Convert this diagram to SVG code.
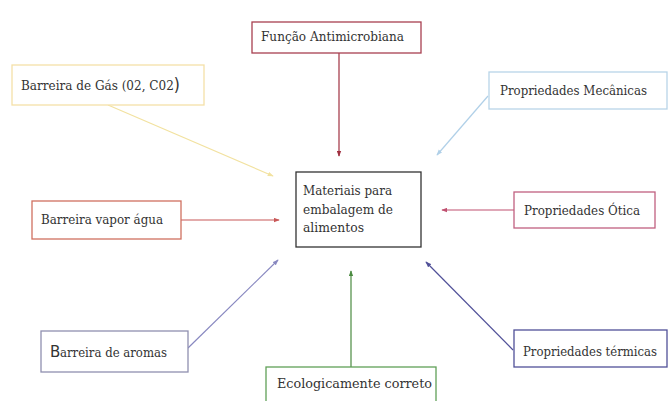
<svg xmlns="http://www.w3.org/2000/svg" width="668" height="401" viewBox="0 0 668 401">
<defs>
<style>
.box{fill:#fff;stroke-width:1.3}
.t{font-family:'DejaVu Serif','Liberation Serif',serif;font-size:13px;fill:#333}
.s{font-family:'DejaVu Sans','Liberation Sans',sans-serif}
.c{fill:none;stroke-width:1.2}
</style>
<marker id="ar" viewBox="0 0 8 6" refX="7" refY="3" markerWidth="6" markerHeight="5" orient="auto" markerUnits="userSpaceOnUse"><path d="M0,0 L8,3 L0,6 z" fill="context-stroke"/></marker>
</defs>
<rect width="668" height="401" fill="#fff"/>
<g id="connectors">
<line class="c" x1="339" y1="53" x2="339" y2="156" stroke="#a03040" marker-end="url(#ar)"/>
<line class="c" x1="108" y1="105" x2="273" y2="176" stroke="#f2e2a0" marker-end="url(#ar)"/>
<line class="c" x1="488" y1="96" x2="437" y2="155" stroke="#b0d0e8" marker-end="url(#ar)"/>
<line class="c" x1="181" y1="220" x2="279" y2="220" stroke="#c85858" marker-end="url(#ar)"/>
<line class="c" x1="514" y1="210" x2="442" y2="210" stroke="#c05070" marker-end="url(#ar)"/>
<line class="c" x1="188" y1="348" x2="278" y2="260" stroke="#8888c0" marker-end="url(#ar)"/>
<line class="c" x1="351" y1="367" x2="351" y2="271" stroke="#4a8a40" marker-end="url(#ar)"/>
<line class="c" x1="513" y1="350" x2="426" y2="262" stroke="#505098" marker-end="url(#ar)"/>
</g>
<g id="funcao">
<rect class="box" x="252" y="22" width="169" height="31" stroke="#a84050"/>
<text class="t" x="261" y="41" textLength="143" lengthAdjust="spacingAndGlyphs">Função Antimicrobiana</text>
</g>
<g id="gas">
<rect class="box" x="12" y="65" width="192" height="40" stroke="#f5e0a8"/>
<text class="t" x="21" y="90" textLength="159" lengthAdjust="spacingAndGlyphs">Barreira de Gás (02, C02<tspan class="s" font-size="17" dy="1">)</tspan></text>
</g>
<g id="mecanicas">
<rect class="box" x="489" y="72" width="178" height="37" stroke="#b8d4e8"/>
<text class="t" x="500" y="95" textLength="147" lengthAdjust="spacingAndGlyphs">Propriedades Mecânicas</text>
</g>
<g id="centro">
<rect class="box" x="296" y="172" width="125" height="75" stroke="#333"/>
<text class="t" x="303" y="195" textLength="89" lengthAdjust="spacingAndGlyphs">Materiais para</text>
<text class="t" x="303" y="214" textLength="90" lengthAdjust="spacingAndGlyphs">embalagem de</text>
<text class="t" x="303" y="232" textLength="61" lengthAdjust="spacingAndGlyphs">alimentos</text>
</g>
<g id="vapor">
<rect class="box" x="32" y="201" width="149" height="38" stroke="#d07060"/>
<text class="t" x="41" y="224" textLength="122" lengthAdjust="spacingAndGlyphs">Barreira vapor água</text>
</g>
<g id="otica">
<rect class="box" x="514" y="192" width="141" height="36" stroke="#c06080"/>
<text class="t" x="524" y="215" textLength="116" lengthAdjust="spacingAndGlyphs">Propriedades Ótica</text>
</g>
<g id="aromas">
<rect class="box" x="41" y="331" width="147" height="41" stroke="#9090b0"/>
<text class="s" x="50" y="357" font-size="15" fill="#333">B</text>
<text class="t" x="60" y="357" textLength="107" lengthAdjust="spacingAndGlyphs">arreira de aromas</text>
</g>
<g id="ecologico">
<rect class="box" x="266" y="367" width="170" height="40" stroke="#60a058"/>
<text class="t" x="277" y="388" textLength="155" lengthAdjust="spacingAndGlyphs">Ecologicamente correto</text>
</g>
<g id="termicas">
<rect class="box" x="514" y="330" width="153" height="37" stroke="#505098"/>
<text class="t" x="523" y="356" font-size="12" textLength="134" lengthAdjust="spacingAndGlyphs">Propriedades térmicas</text>
</g>
</svg>
